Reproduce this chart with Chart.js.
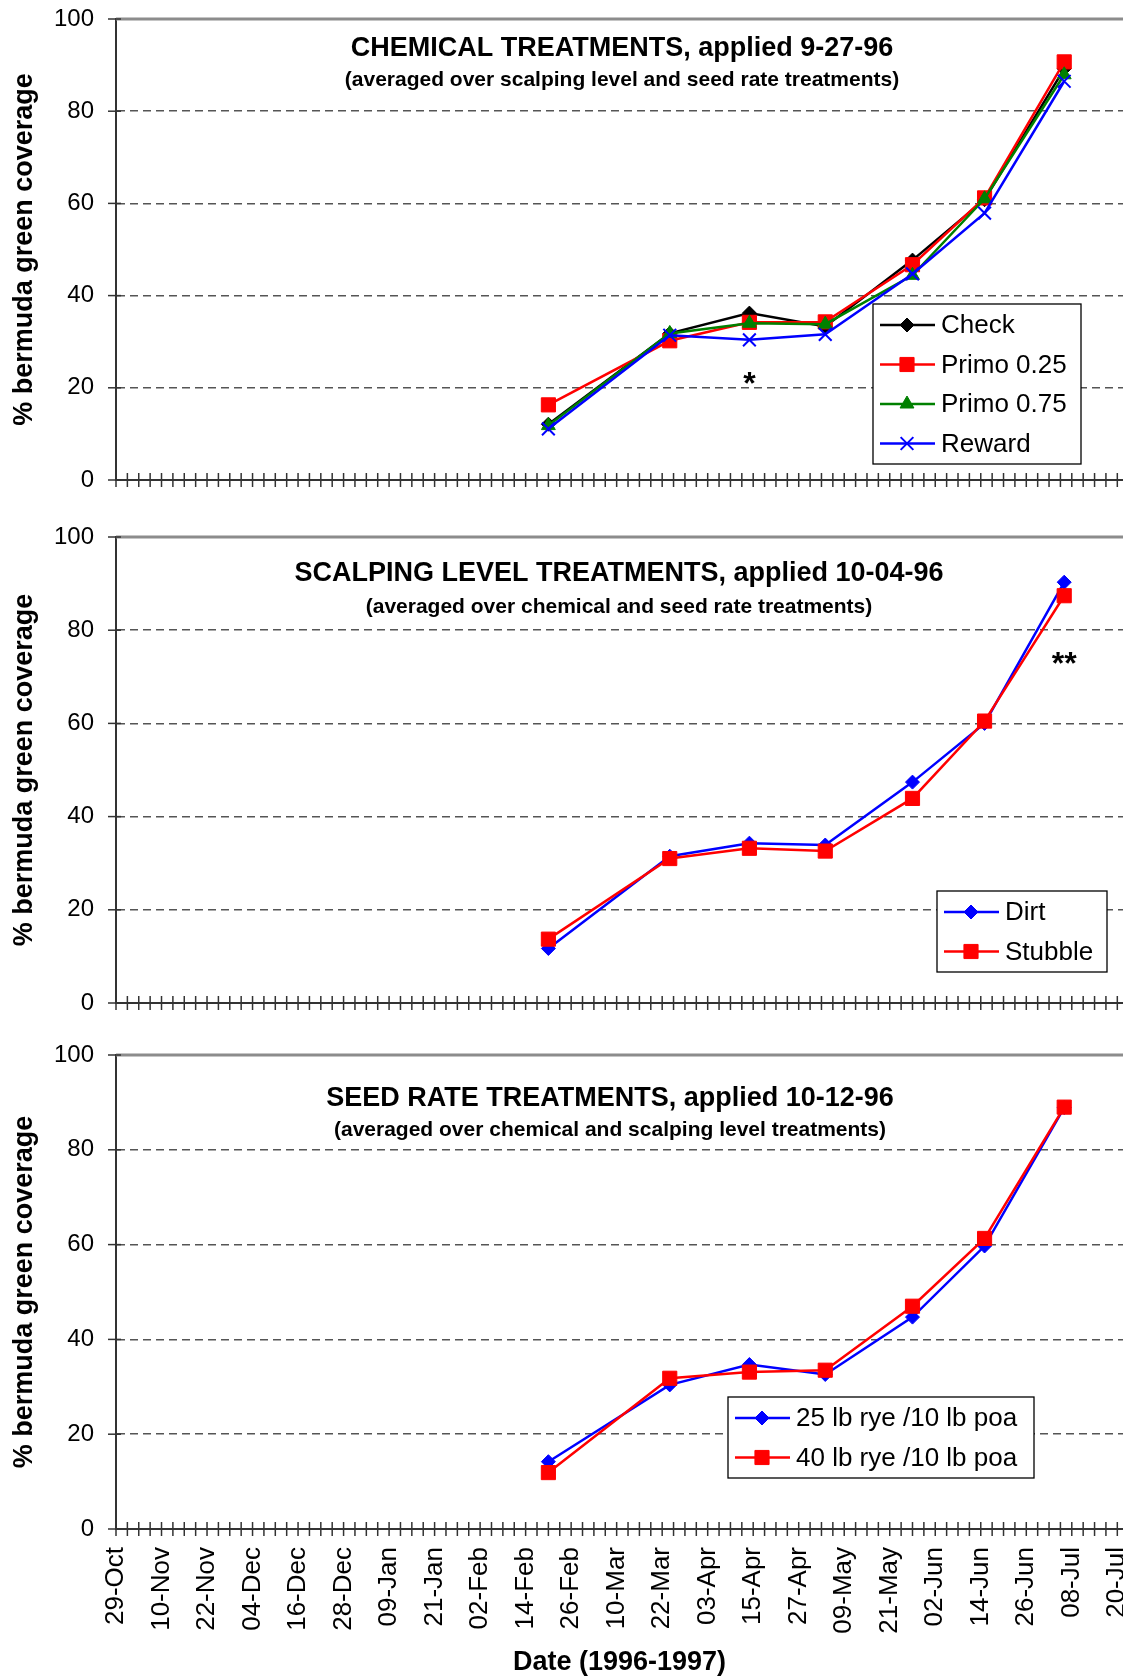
<!DOCTYPE html>
<html>
<head>
<meta charset="utf-8">
<script src="https://cdn.jsdelivr.net/npm/chart.js"></script>
<style>
  body { margin: 0; background: #fff; }
  .box { position: absolute; left: 0; width: 1123px; }
</style>
</head>
<body>
<div class="box" style="top:0;height:500px"><canvas id="chemChart"></canvas></div>
<div class="box" style="top:500px;height:523px"><canvas id="scalpChart"></canvas></div>
<div class="box" style="top:1023px;height:656px"><canvas id="seedChart"></canvas></div>
<script>
// rating dates, and the first day of the date axis
const axisStart = "1996-10-29";
const sampleDates = ["1997-02-20", "1997-03-24", "1997-04-14", "1997-05-04", "1997-05-27", "1997-06-15", "1997-07-06"];
const monthNames = ["Jan", "Feb", "Mar", "Apr", "May", "Jun", "Jul", "Aug", "Sep", "Oct", "Nov", "Dec"];
const yTicks = [0, 20, 40, 60, 80, 100];

// chemical treatments (% bermuda green coverage)
const check = [12.1, 31.8, 36.2, 33.3, 47.7, 60.8, 89.2];
const primo025 = [16.3, 30.2, 34.2, 34.3, 46.7, 61.2, 90.7];
const primo075 = [11.8, 31.8, 34.0, 33.8, 44.4, 61.0, 87.9];
const reward = [11.1, 31.4, 30.4, 31.6, 44.7, 57.9, 86.5];

// scalping level treatments
const dirt = [11.7, 31.5, 34.3, 33.9, 47.4, 60.0, 90.3];
const stubble = [13.7, 31.0, 33.2, 32.6, 43.9, 60.5, 87.4];

// seed rate treatments
const rye25 = [14.2, 30.4, 34.7, 32.6, 44.7, 59.7, 88.9];
const rye40 = [11.9, 31.8, 33.1, 33.5, 47.0, 61.3, 89.0];

const FONT = "'Liberation Sans', Arial, sans-serif";
Chart.defaults.font.family = FONT;
Chart.defaults.color = "#000";

const DAY = 86400000;
function dayOf(s) {
  return (Date.parse(s) - Date.parse(axisStart)) / DAY;
}
const sampleDays = sampleDates.map(dayOf);

function dateLabel(v) {
  if (v % 12 !== 0) return "";
  const d = new Date(Date.parse(axisStart) + v * DAY);
  return String(d.getUTCDate()).padStart(2, "0") + "-" + monthNames[d.getUTCMonth()];
}

function series(label, values, color, style, radius, order) {
  return {
    label: label,
    data: values.map((v, i) => ({ x: sampleDays[i], y: v })),
    borderColor: color,
    backgroundColor: color,
    borderWidth: 2.5,
    pointStyle: style,
    pointRadius: radius,
    pointBorderWidth: style === "crossRot" ? 2 : 1,
    pointBackgroundColor: color,
    pointBorderColor: color,
    tension: 0,
    order: order,
  };
}

function line(ctx, x1, y1, x2, y2) {
  ctx.beginPath();
  ctx.moveTo(x1, y1);
  ctx.lineTo(x2, y2);
  ctx.stroke();
}

function noPadding(s) {
  s.paddingLeft = 0;
  s.paddingRight = 0;
  s.paddingTop = 0;
  s.paddingBottom = 0;
}

// titles, crossing tick marks, significance marks and the boxed legend
const decor = {
  id: "decor",
  afterDraw(chart, args, o) {
    const { ctx, chartArea: a } = chart;
    const x = chart.scales.x;
    const y = chart.scales.y;
    ctx.save();

    ctx.strokeStyle = "#8c8c8c";
    ctx.lineWidth = 3;
    line(ctx, a.left, a.top, a.right, a.top);

    ctx.strokeStyle = "#333";
    ctx.lineWidth = 1.5;
    x.ticks.forEach((t) => {
      const px = x.getPixelForValue(t.value);
      line(ctx, px, a.bottom - 7, px, a.bottom + 7);
    });
    y.ticks.forEach((t) => {
      const py = y.getPixelForValue(t.value);
      line(ctx, a.left - 8, py, a.left + 5, py);
    });

    ctx.fillStyle = "#000";
    ctx.textAlign = "center";
    ctx.textBaseline = "middle";
    ctx.font = "bold 27px " + FONT;
    ctx.fillText(o.title, o.titleX, o.titleY);
    ctx.font = "bold 21px " + FONT;
    ctx.fillText(o.subtitle, o.titleX, o.subY);

    ctx.font = "bold 32px " + FONT;
    (o.marks || []).forEach((m) => {
      ctx.fillText(m.text, x.getPixelForValue(sampleDays[m.index]), y.getPixelForValue(m.value));
    });

    const L = o.legend;
    const sets = chart.data.datasets;
    const h = sets.length * 39.5 + 2;
    ctx.fillStyle = "#fff";
    ctx.fillRect(L.left, L.top, L.width, h);
    ctx.strokeStyle = "#000";
    ctx.lineWidth = 1.3;
    ctx.strokeRect(L.left, L.top, L.width, h);
    sets.forEach((ds, i) => {
      const cy = L.top + 21 + i * 39.5;
      ctx.strokeStyle = ds.borderColor;
      ctx.lineWidth = 2.5;
      line(ctx, L.left + 7, cy, L.left + 62, cy);
      ctx.fillStyle = ds.borderColor;
      ctx.lineWidth = ds.pointBorderWidth;
      Chart.helpers.drawPoint(ctx, {
        pointStyle: ds.pointStyle,
        radius: ds.pointRadius,
        rotation: 0,
        borderWidth: ds.pointBorderWidth,
      }, L.left + 34, cy);
      ctx.fillStyle = "#000";
      ctx.textAlign = "left";
      ctx.font = "26px " + FONT;
      ctx.fillText(ds.label, L.left + 68, cy + 1);
    });
    ctx.restore();
  },
};

function makeChart(id, datasets, opts) {
  return new Chart(document.getElementById(id), {
    type: "line",
    data: { datasets: datasets },
    plugins: [decor],
    options: {
      responsive: true,
      maintainAspectRatio: false,
      animation: false,
      layout: { autoPadding: false, padding: { top: opts.padTop, left: 0, right: 0, bottom: 0 } },
      plugins: {
        legend: { display: false },
        tooltip: { enabled: false },
        decor: opts.decor,
      },
      scales: {
        x: {
          type: "linear",
          min: 0,
          max: 265.5,
          afterFit: (s) => {
            s.height = opts.showDates ? 150 : 20;
            noPadding(s);
          },
          grid: { drawOnChartArea: false, drawTicks: false },
          border: { color: "#333", width: 2 },
          ticks: {
            display: opts.showDates,
            stepSize: 3,
            includeBounds: false,
            autoSkip: false,
            maxRotation: 90,
            minRotation: 90,
            padding: 18,
            font: { size: 26 },
            callback: dateLabel,
          },
          title: {
            display: opts.showDates,
            text: "Date (1996-1997)",
            font: { size: 27, weight: "bold" },
            padding: 0,
          },
        },
        y: {
          min: 0,
          max: 100,
          afterFit: (s) => {
            s.width = 116;
            noPadding(s);
          },
          afterBuildTicks: (s) => { s.ticks = yTicks.map((v) => ({ value: v })); },
          grid: {
            drawTicks: false,
            lineWidth: 1.5,
            color: (c) => (c.tick && (c.tick.value === 0 || c.tick.value === 100) ? "rgba(0,0,0,0)" : "#555"),
          },
          border: { color: "#333", width: 2, dash: [8, 5] },
          ticks: { padding: 22, font: { size: 24 } },
          title: {
            display: true,
            text: "% bermuda green coverage",
            font: { size: 27, weight: "bold" },
            padding: { top: 8, bottom: 0 },
          },
        },
      },
    },
  });
}

makeChart("chemChart", [
  series("Check", check, "#000000", "rectRot", 7, 4),
  series("Primo 0.25", primo025, "#ff0000", "rect", 10, 3),
  series("Primo 0.75", primo075, "#008000", "triangle", 8, 2),
  series("Reward", reward, "#0000ff", "crossRot", 9, 1),
], {
  padTop: 19,
  showDates: false,
  decor: {
    title: "CHEMICAL TREATMENTS, applied 9-27-96",
    subtitle: "(averaged over scalping level and seed rate treatments)",
    titleX: 622, titleY: 49, subY: 80,
    marks: [{ index: 2, value: 20.5, text: "*" }],
    legend: { left: 873, top: 304, width: 208 },
  },
});

makeChart("scalpChart", [
  series("Dirt", dirt, "#0000ff", "rectRot", 7, 2),
  series("Stubble", stubble, "#ff0000", "rect", 10, 1),
], {
  padTop: 37,
  showDates: false,
  decor: {
    title: "SCALPING LEVEL TREATMENTS, applied 10-04-96",
    subtitle: "(averaged over chemical and seed rate treatments)",
    titleX: 619, titleY: 74, subY: 107,
    marks: [{ index: 6, value: 72.5, text: "**" }],
    legend: { left: 937, top: 391, width: 170 },
  },
});

makeChart("seedChart", [
  series("25 lb rye /10 lb poa", rye25, "#0000ff", "rectRot", 7, 2),
  series("40 lb rye /10 lb poa", rye40, "#ff0000", "rect", 10, 1),
], {
  padTop: 32,
  showDates: true,
  decor: {
    title: "SEED RATE TREATMENTS, applied 10-12-96",
    subtitle: "(averaged over chemical and scalping level treatments)",
    titleX: 610, titleY: 76, subY: 107,
    legend: { left: 728, top: 374, width: 306 },
  },
});
</script>
</body>
</html>
